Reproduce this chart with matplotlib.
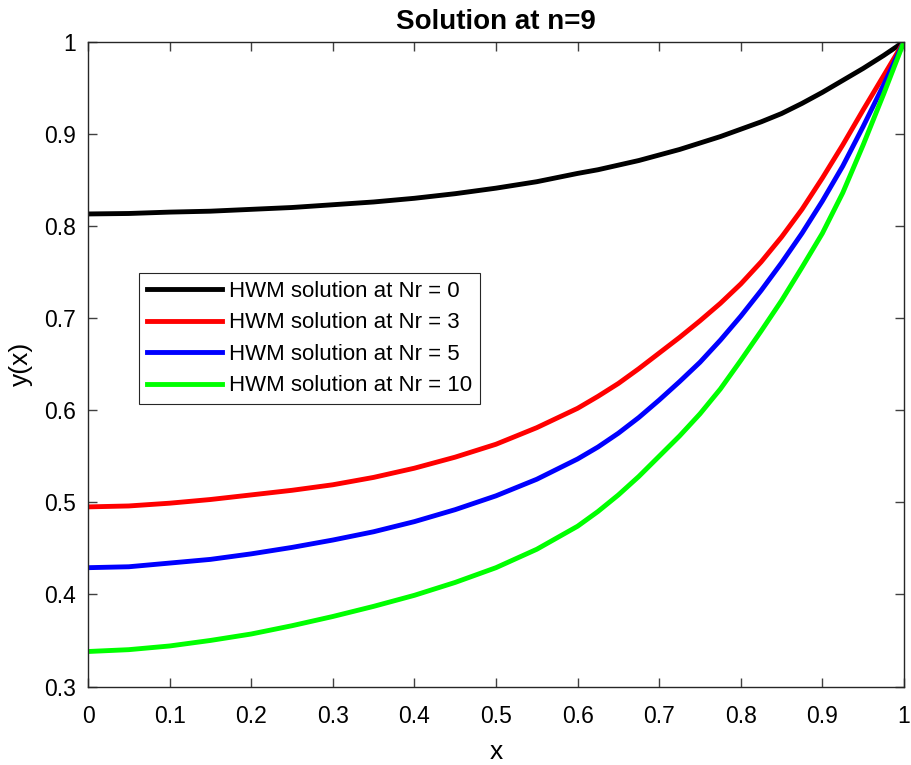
import numpy as np
import matplotlib
matplotlib.use("Agg")
import matplotlib.pyplot as plt

# ── Data ─────────────────────────────────────────────────────────────────────
x = [0.00, 0.05, 0.10, 0.15, 0.20, 0.25, 0.30, 0.35, 0.40, 0.45, 0.50, 0.55,
     0.600, 0.625, 0.650, 0.675, 0.700, 0.725, 0.750, 0.775, 0.800,
     0.825, 0.850, 0.875, 0.900, 0.925, 0.950, 0.975, 1.000]

y_nr0 = [0.813, 0.8135, 0.815, 0.816, 0.818, 0.820, 0.823, 0.826, 0.830, 0.835, 0.841, 0.848,
         0.857, 0.861, 0.866, 0.871, 0.877, 0.883, 0.890, 0.897, 0.905,
         0.913, 0.922, 0.933, 0.945, 0.958, 0.971, 0.985, 1.000]
y_nr3 = [0.495, 0.496, 0.499, 0.503, 0.508, 0.513, 0.519, 0.527, 0.537, 0.549, 0.563, 0.581,
         0.602, 0.615, 0.629, 0.645, 0.662, 0.679, 0.697, 0.716, 0.737,
         0.761, 0.788, 0.818, 0.852, 0.888, 0.926, 0.963, 1.000]
y_nr5 = [0.429, 0.430, 0.434, 0.438, 0.444, 0.451, 0.459, 0.468, 0.479, 0.492, 0.507, 0.525,
         0.547, 0.560, 0.575, 0.592, 0.611, 0.631, 0.652, 0.676, 0.702,
         0.730, 0.760, 0.792, 0.827, 0.865, 0.908, 0.953, 1.000]
y_nr10 = [0.338, 0.340, 0.344, 0.350, 0.357, 0.366, 0.376, 0.387, 0.399, 0.413, 0.429, 0.449,
          0.474, 0.490, 0.508, 0.528, 0.550, 0.572, 0.596, 0.623, 0.654,
          0.686, 0.719, 0.755, 0.792, 0.836, 0.888, 0.943, 1.000]

series = [y_nr0, y_nr3, y_nr5, y_nr10]
labels = ["HWM solution at Nr = 0", "HWM solution at Nr = 3",
          "HWM solution at Nr = 5", "HWM solution at Nr = 10"]
colors = ["#000000", "#ff0000", "#0000ff", "#00ff00"]

# ── Plot ─────────────────────────────────────────────────────────────────────
plt.rcParams["font.family"] = ["Liberation Sans", "DejaVu Sans"]

fig = plt.figure(figsize=(9.11, 7.65), dpi=100)
ax = fig.add_axes([0.0966, 0.1026, 0.8957, 0.8429])

for ys, lab, col in zip(series, labels, colors):
    ax.plot(x, ys, color=col, lw=3.5, label=lab, solid_joinstyle="round")

ax.set_xlim(0, 1)
ax.set_ylim(0.3, 1)
ax.set_xticks(np.arange(0, 1.01, 0.1))
ax.set_yticks(np.arange(0.3, 1.01, 0.1))
ax.set_xticklabels(["0", "0.1", "0.2", "0.3", "0.4", "0.5", "0.6", "0.7", "0.8", "0.9", "1"])
ax.set_yticklabels(["0.3", "0.4", "0.5", "0.6", "0.7", "0.8", "0.9", "1"])
ax.tick_params(direction="in", top=True, right=True, length=6.5, width=1,
               color="#404040", labelsize=16.5)
ax.tick_params(axis="x", pad=13)
ax.tick_params(axis="y", pad=9)
for sp in ax.spines.values():
    sp.set_color("#262626")
    sp.set_linewidth(1.0)

ax.set_xlabel("x", fontsize=19, labelpad=9)
ax.set_ylabel("y(x)", fontsize=19, labelpad=8)
ax.set_title("Solution at n=9", fontsize=20, fontweight="bold", pad=9)

leg = ax.legend(loc="upper left", bbox_to_anchor=(0.0625, 0.641), fontsize=16,
                frameon=True, fancybox=False, framealpha=1, edgecolor="#262626",
                handlelength=3.4, handletextpad=0.3, borderpad=0.35,
                labelspacing=0.47, borderaxespad=0)
leg.get_frame().set_linewidth(0.8)

plt.savefig("out.png", dpi=100)
plt.close()
